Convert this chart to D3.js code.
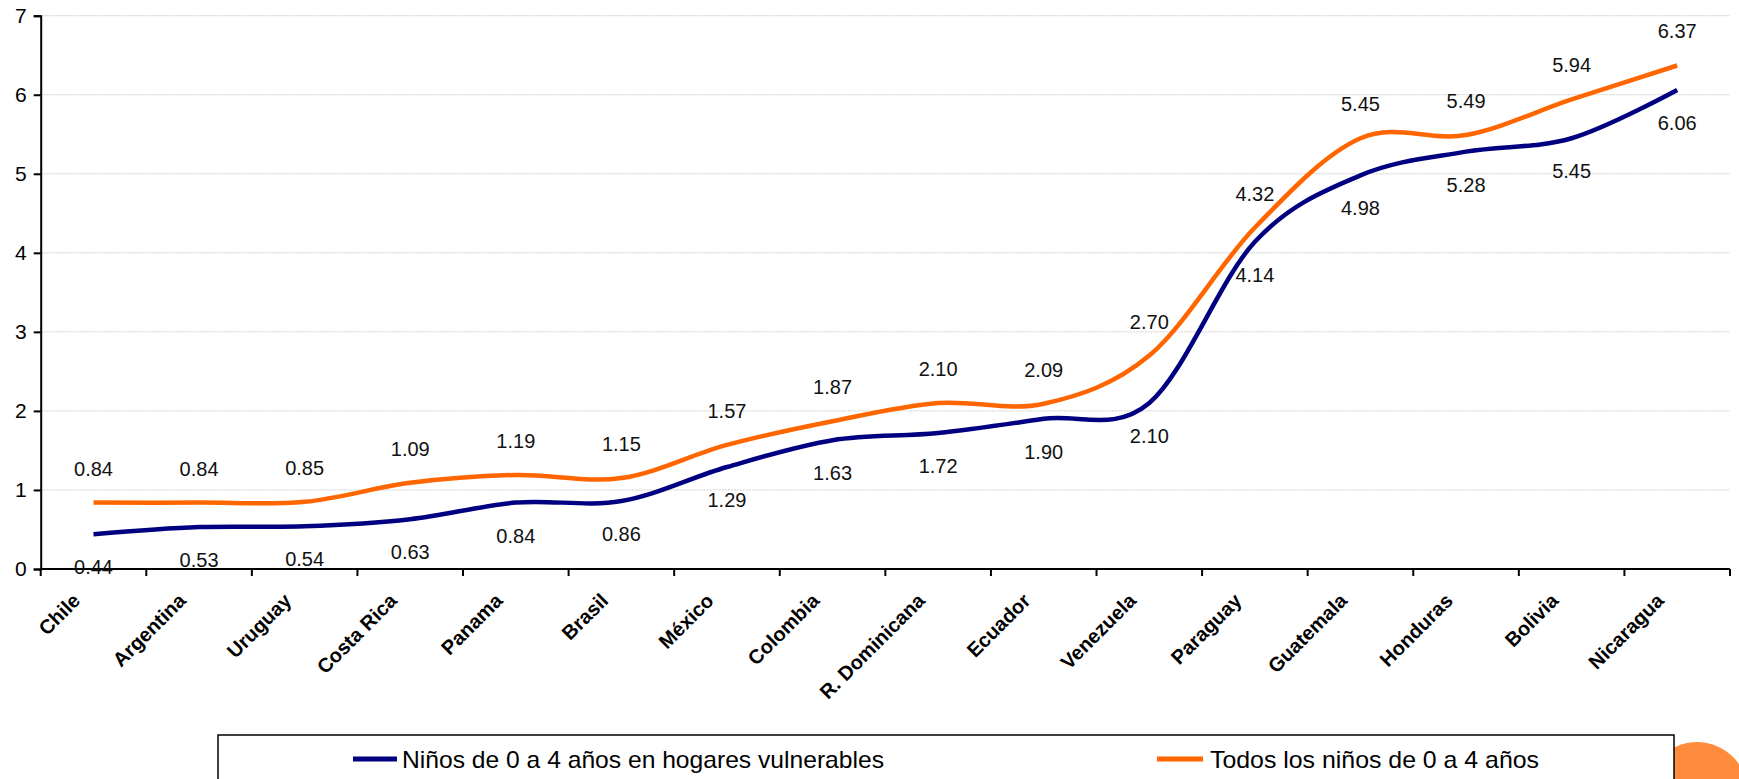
<!DOCTYPE html>
<html>
<head>
<meta charset="utf-8">
<script src="https://cdn.jsdelivr.net/npm/d3@7"></script>
<style>
  html, body { margin: 0; padding: 0; background: #fff; }
  svg { display: block; }
  text { font-family: "Liberation Sans", Arial, sans-serif; }
</style>
</head>
<body>
<svg id="chart" width="1739" height="779"></svg>
<script>
const categories = ["Chile","Argentina","Uruguay","Costa Rica","Panama","Brasil","México","Colombia","R. Dominicana","Ecuador","Venezuela","Paraguay","Guatemala","Honduras","Bolivia","Nicaragua"];
const vulnerableValues = [0.44,0.53,0.54,0.63,0.84,0.86,1.29,1.63,1.72,1.90,2.10,4.14,4.98,5.28,5.45,6.06];
const allValues = [0.84,0.84,0.85,1.09,1.19,1.15,1.57,1.87,2.10,2.09,2.70,4.32,5.45,5.49,5.94,6.37];
const yTicks = [0,1,2,3,4,5,6,7];
const seriesNames = ["Niños de 0 a 4 años en hogares vulnerables","Todos los niños de 0 a 4 años"];

(function () {
const svg = d3.select("#chart");
const plotLeft = 40.7, plotRight = 1730, plotTop = 15.7, plotBottom = 569;

const x = d3.scaleBand().domain(categories).range([plotLeft, plotRight]).padding(0);
const y = d3.scaleLinear().domain([0, 7]).range([plotBottom, plotTop]);
const cx = c => x(c) + x.bandwidth() / 2;

// decorative circle bottom-right
svg.append("circle").attr("cx", 1697).attr("cy", 793).attr("r", 51).attr("fill", "#FF8B3D");

// gridlines
svg.append("g").selectAll("line").data(yTicks.filter(d => d > 0)).join("line")
  .attr("x1", plotLeft).attr("x2", plotRight)
  .attr("y1", d => y(d)).attr("y2", d => y(d))
  .attr("stroke", "#cfcfcf").attr("stroke-width", 1).attr("stroke-dasharray", "2,1");

// y axis
const yAxis = svg.append("g").attr("transform", `translate(${plotLeft},0)`)
  .call(d3.axisLeft(y).tickValues(yTicks).tickSize(7).tickFormat(d3.format("d")));
yAxis.select(".domain").attr("stroke", "#000").attr("stroke-width", 2);
yAxis.selectAll(".tick line").attr("stroke", "#000").attr("stroke-width", 2);
yAxis.selectAll(".tick text").attr("x", -14).attr("font-size", 21).attr("fill", "#000")
  .attr("font-family", "Liberation Sans, Arial, sans-serif");

// x axis
const xAxis = svg.append("g").attr("transform", `translate(0,${plotBottom})`);
xAxis.append("line").attr("x1", plotLeft).attr("x2", plotRight).attr("y1", 0).attr("y2", 0)
  .attr("stroke", "#000").attr("stroke-width", 2);
const bounds = categories.map(c => x(c)).concat([plotRight]);
xAxis.selectAll("line.tk").data(bounds).join("line").attr("class", "tk")
  .attr("x1", d => d).attr("x2", d => d).attr("y1", 0).attr("y2", 7)
  .attr("stroke", "#000").attr("stroke-width", 2);
xAxis.selectAll("text").data(categories).join("text")
  .attr("transform", d => `translate(${cx(d) - 12},33) rotate(-45)`)
  .attr("text-anchor", "end")
  .attr("font-size", 20).attr("font-weight", "bold").attr("fill", "#000")
  .text(d => d);

// lines
const line = d3.line().x((d, i) => cx(categories[i])).y(d => y(d)).curve(d3.curveCardinal.tension(0));
svg.append("path").datum(allValues).attr("d", line)
  .attr("fill", "none").attr("stroke", "#FF6600").attr("stroke-width", 4.5);
svg.append("path").datum(vulnerableValues).attr("d", line)
  .attr("fill", "none").attr("stroke", "#000080").attr("stroke-width", 4.5);

// data labels
svg.append("g").selectAll("text").data(allValues).join("text")
  .attr("x", (d, i) => cx(categories[i])).attr("y", d => y(d) - 34)
  .attr("text-anchor", "middle").attr("dominant-baseline", "central")
  .attr("font-size", 20).attr("fill", "#111").text(d => d.toFixed(2));
svg.append("g").selectAll("text").data(vulnerableValues).join("text")
  .attr("x", (d, i) => cx(categories[i])).attr("y", d => y(d) + 33)
  .attr("text-anchor", "middle").attr("dominant-baseline", "central")
  .attr("font-size", 20).attr("fill", "#111").text(d => d.toFixed(2));

// legend
const lg = svg.append("g");
lg.append("rect").attr("x", 218).attr("y", 735).attr("width", 1456).attr("height", 80)
  .attr("fill", "#fff").attr("stroke", "#000").attr("stroke-width", 1.5);
const legendItems = [
  {name: seriesNames[0], color: "#000080", x0: 353, x1: 397, tx: 402, w: 482},
  {name: seriesNames[1], color: "#FF6600", x0: 1157, x1: 1203, tx: 1210, w: 329}
];
legendItems.forEach(it => {
  lg.append("line").attr("x1", it.x0).attr("x2", it.x1).attr("y1", 759).attr("y2", 759)
    .attr("stroke", it.color).attr("stroke-width", 5);
  lg.append("text").attr("x", it.tx).attr("y", 759).attr("dominant-baseline", "central")
    .attr("font-size", 24).attr("fill", "#000")
    .attr("textLength", it.w).attr("lengthAdjust", "spacingAndGlyphs")
    .text(it.name);
});
})();
</script>
</body>
</html>
